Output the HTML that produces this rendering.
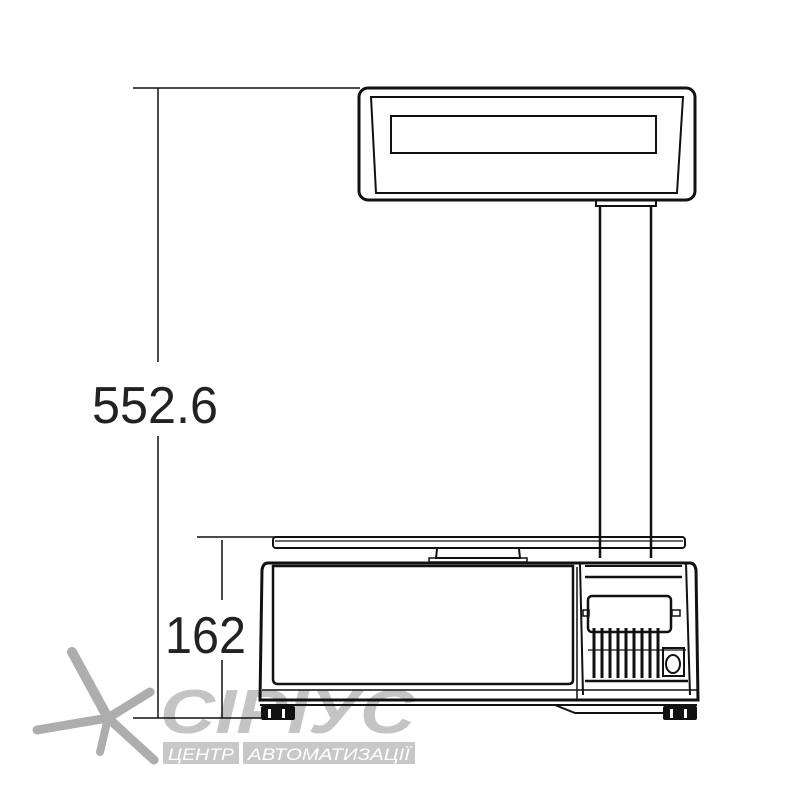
<!DOCTYPE html>
<html><head><meta charset="utf-8"><style>
html,body{margin:0;padding:0;background:#fff;width:800px;height:800px;overflow:hidden}
</style></head><body>
<svg width="800" height="800" viewBox="0 0 800 800" xmlns="http://www.w3.org/2000/svg">
<rect width="800" height="800" fill="#fff"/>
<g stroke="#adadad" stroke-linecap="round" fill="none">
 <line x1="108" y1="718" x2="72" y2="652" stroke-width="10"/>
 <line x1="108" y1="718" x2="150" y2="692" stroke-width="9"/>
 <line x1="108" y1="718" x2="37" y2="730" stroke-width="9"/>
 <line x1="108" y1="718" x2="100" y2="752" stroke-width="8"/>
 <line x1="108" y1="718" x2="154" y2="760" stroke-width="9"/>
</g>
<text x="160" y="733" font-family="Liberation Sans, DejaVu Sans, sans-serif" font-size="62" font-style="italic" font-weight="bold" fill="#c4c4c4" textLength="255" lengthAdjust="spacingAndGlyphs">СІРІУС</text>
<rect x="163" y="742" width="76" height="22" fill="#c8c8c8"/>
<rect x="243" y="742" width="172" height="22" fill="#c8c8c8"/>
<text x="168" y="760" font-family="Liberation Sans, sans-serif" font-size="17" font-style="italic" fill="#fff" textLength="66" lengthAdjust="spacingAndGlyphs">ЦЕНТР</text>
<text x="248" y="760" font-family="Liberation Sans, sans-serif" font-size="17" font-style="italic" fill="#fff" textLength="162" lengthAdjust="spacingAndGlyphs">АВТОМАТИЗАЦІЇ</text>

<g stroke="#111" fill="none">
 <line x1="133" y1="88" x2="360" y2="88" stroke-width="1.5"/>
 <line x1="158" y1="88" x2="158" y2="362" stroke-width="1.5"/>
 <line x1="158" y1="436" x2="158" y2="718" stroke-width="1.5"/>
 <line x1="133" y1="718" x2="272" y2="718" stroke-width="1.5"/>
 <line x1="197" y1="537" x2="280" y2="537" stroke-width="1.5"/>
 <line x1="222" y1="540" x2="222" y2="600" stroke-width="1.5"/>
 <line x1="222" y1="660" x2="222" y2="718" stroke-width="1.5"/>

 <rect x="359" y="88" width="336" height="112" rx="9" stroke-width="3"/>
 <path d="M371 97 L683 97 L677 193 L376 193 Z" stroke-width="2"/>
 <rect x="391" y="116" width="265" height="37" stroke-width="2"/>
 <rect x="596" y="200" width="60" height="6" stroke-width="2"/>
 <line x1="600" y1="206" x2="600" y2="558" stroke-width="2.5"/>
 <line x1="651" y1="206" x2="651" y2="558" stroke-width="2.5"/>

 <rect x="273" y="537" width="412" height="11" rx="3" stroke-width="2"/>
 <line x1="275" y1="541" x2="683" y2="541" stroke-width="1.2"/>
 <path d="M437 549 L436 558 L520 558 L519 549" stroke-width="2"/>
 <rect x="429" y="558" width="98" height="4" stroke-width="1.5"/>

 <path d="M268 563 L690 563 Q695 563 696 570 L698 700 L260 700 L262 570 Q263 563 268 563 Z" stroke-width="3"/>
 <path d="M273 566 L573 566 L573 680 Q573 684 568 684 L278 684 Q273 684 273 679 Z" stroke-width="2.5"/>
 <line x1="262" y1="690" x2="697" y2="690" stroke-width="1.5"/>
 <line x1="260" y1="705" x2="697" y2="705" stroke-width="2"/>
 <path d="M555 705 L575 713 L688 713" stroke-width="2"/>
 <line x1="577" y1="567" x2="577" y2="700" stroke-width="1.5"/>
 <path d="M580 563 L583 695 M585 566 L682 566 M686 563 L690 695" stroke-width="2"/>
 <line x1="585" y1="577" x2="682" y2="577" stroke-width="2.5"/>
 <rect x="588" y="596" width="83" height="36" rx="4" stroke-width="2.5"/>
 <rect x="672" y="610" width="8" height="6" stroke-width="1.5"/>
 <rect x="583" y="610" width="6" height="6" stroke-width="1.5"/>
 <g stroke-width="3">
  <line x1="594" y1="628" x2="594" y2="678"/><line x1="602" y1="628" x2="602" y2="678"/>
  <line x1="610" y1="628" x2="610" y2="678"/><line x1="618" y1="628" x2="618" y2="678"/>
  <line x1="626" y1="628" x2="626" y2="678"/><line x1="634" y1="628" x2="634" y2="678"/>
  <line x1="642" y1="628" x2="642" y2="678"/><line x1="650" y1="628" x2="650" y2="678"/>
  <line x1="658" y1="628" x2="658" y2="678"/>
 </g>
 <line x1="588" y1="650" x2="686" y2="650" stroke-width="1.2"/>
 <line x1="585" y1="681" x2="688" y2="681" stroke-width="2.5"/>
 <rect x="663" y="648" width="21" height="28" stroke-width="2"/>
 <ellipse cx="673" cy="664" rx="7" ry="9" stroke-width="2"/>
</g>
<g fill="#111">
 <rect x="261" y="706" width="34" height="14" rx="2"/>
 <rect x="663" y="706" width="34" height="14" rx="2"/>
</g>
<g fill="#fff">
 <rect x="268" y="709" width="3" height="9"/><rect x="282" y="709" width="3" height="9"/>
 <rect x="670" y="709" width="3" height="9"/><rect x="684" y="709" width="3" height="9"/>
</g>

<text x="92" y="423" font-family="Liberation Sans, Arial, sans-serif" font-size="52" fill="#222" textLength="126" lengthAdjust="spacingAndGlyphs">552.6</text>
<text x="165" y="653" font-family="Liberation Sans, Arial, sans-serif" font-size="52" fill="#222" textLength="81" lengthAdjust="spacingAndGlyphs">162</text>
</svg>
</body></html>
